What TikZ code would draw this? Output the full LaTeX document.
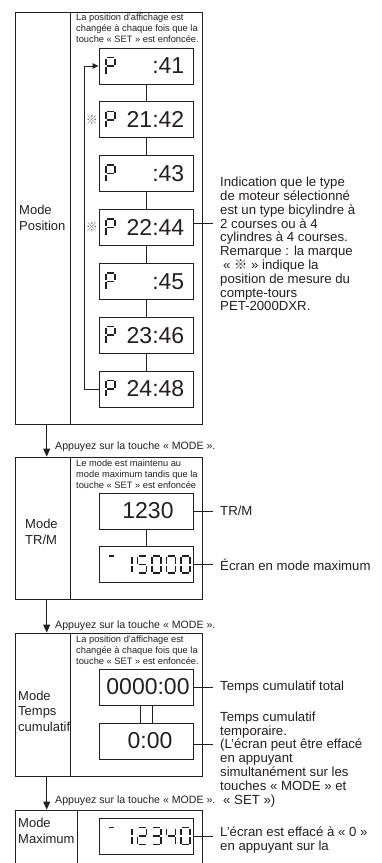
\documentclass[tikz,border=0pt]{standalone}
\usepackage{fontspec}
\setmainfont{Liberation Sans}
\newfontfamily\cjkfont{Noto Sans CJK JP}
\usetikzlibrary{arrows.meta,positioning}
\definecolor{ink}{HTML}{231F20}

\tikzset{
  modebox/.style={draw, line width=0.9pt, inner sep=0pt},
  lcd/.style={draw, line width=0.9pt, minimum width=94pt, minimum height=36pt, inner sep=0pt},
  lcdtext/.style={font=\fontsize{23}{23}\selectfont, inner sep=0pt},
  segline/.style={line width=1.4pt},
  link/.style={line width=0.9pt},
  flow/.style={line width=0.9pt, -{Triangle[length=8pt,width=7pt]}},
  modename/.style={font=\fontsize{13}{15.5}\selectfont, align=left, anchor=west, inner sep=0pt},
  hint/.style={font=\fontsize{9.3}{10.8}\selectfont, align=left, anchor=north west, inner sep=0pt},
  press/.style={font=\fontsize{10.6}{12}\selectfont, anchor=west, inner sep=0pt},
  remark/.style={font=\fontsize{13.2}{13.8}\selectfont, align=left, anchor=north west, inner sep=0pt},
  refmark/.style={font=\cjkfont\fontsize{12}{12}\selectfont, text=black!55, inner sep=0pt},
  % segments of a 7-segment digit, cell 9 x 17
  seg a/.style={insert path={(1,0) -- (8,0)}},
  seg b/.style={insert path={(9,1) -- (9,7.5)}},
  seg c/.style={insert path={(9,9.5) -- (9,16)}},
  seg d/.style={insert path={(1,17) -- (8,17)}},
  seg e/.style={insert path={(0,9.5) -- (0,16)}},
  seg f/.style={insert path={(0,1) -- (0,7.5)}},
  seg g/.style={insert path={(1,8.5) -- (8,8.5)}},
}
\newcommand{\segdigit}[3]{%
  \begin{scope}[shift={(#1,#2)}]
    \foreach \s in {#3} {\draw[segline, seg \s];}
  \end{scope}}

\begin{document}
\begin{tikzpicture}[x=1pt,y=-1pt,color=ink]
\useasboundingbox (0,0) rectangle (381,863);
\clip (0,0) rectangle (381,863);

% Mode Position
\node[modebox, minimum width=187pt, minimum height=412pt] (fpos) at (108.5,218) {};
\draw[link] (70.7,12) -- (70.7,424);
\node[modename] (lpos) at (19,218) {Mode\\Position};
\node[hint] (hpos) at (76,14) {La position d'affichage est\\changée à chaque fois que la\\touche « SET » est enfoncée.};
\foreach \t [count=\i] in {:41,21:42,:43,22:44,:45,23:46,24:48} {
  \pgfmathsetmacro\yy{66+53.83*(\i-1)}
  \node[lcd] (d\i) at (146,\yy) {};
  \node[lcdtext, anchor=east] (t\i) at ([xshift=-9pt]d\i.east) {\t};
  \segdigit{106}{\yy-8.5}{a,b,f,g,e}
}
\foreach \i [evaluate=\i as \j using int(\i+1)] in {1,...,6}
  \draw[link] (d\i) -- (d\j);
\node[refmark, left=0.5pt of d2] (m2) {※};
\node[refmark, left=0.5pt of d4] (m4) {※};
\draw[link, -{Triangle[length=6pt,width=5.5pt]}] (d7.west) -- ++(-14,0) |- (d1.west);
\coordinate (c4) at (213,223.5);
\draw[link] (d4.east |- c4) -- (c4);
\node[remark] (npos) at (220,177) {Indication que le type\\de moteur sélectionné\\est un type bicylindre à\\2 courses ou à 4\\cylindres à 4 courses.\\Remarque : la marque\\\hspace*{3pt}« {\cjkfont ※} » indique la\\position de mesure du\\compte-tours\\PET-2000DXR.};

% Mode TR/M
\coordinate (ax) at (46.7,0);
\node[modebox, minimum width=187pt, minimum height=142pt] (ftrm) at (108.5,528) {};
\draw[link] (70.7,457) -- (70.7,599);
\draw[flow] (fpos.south -| ax) -- (ftrm.north -| ax);
\node[press] (p1) at (55,447) {Appuyez sur la touche « MODE ».};
\node[modename] (ltrm) at (25,532) {Mode\\TR/M};
\node[hint] (htrm) at (76,459.5) {Le mode est maintenu au\\mode maximum tandis que la\\touche « SET » est enfoncée};
\node[lcd] (rpm) at (146,511) {};
\node[lcdtext] (trpm) at ([xshift=2pt]rpm.center) {1230};
\node[lcd] (pk) at (146,564.5) {};
\draw[link] (rpm) -- (pk);
\draw[segline] (109,556) -- (113.5,556);
\segdigit{123}{556}{b,c}
\segdigit{137.5}{556}{a,f,g,c,d}
\foreach \x in {152,166.5,181} {\segdigit{\x}{556}{a,b,c,d,e,f}}
\coordinate (c5) at (213,511);
\coordinate (c6) at (213,564.5);
\draw[link] (rpm.east) -- (c5);
\draw[link] (pk.east) -- (c6);
\node[remark, anchor=west] (nrpm) at (220,511) {TR/M};
\node[remark, anchor=west] (npk) at (220,564.5) {Écran en mode maximum};

% Mode Temps cumulatif
\node[modebox, minimum width=187pt, minimum height=143pt] (ftim) at (108.5,704.5) {};
\draw[link] (70.7,633) -- (70.7,776);
\draw[flow] (ftrm.south -| ax) -- (ftim.north -| ax);
\node[press] (p2) at (55,625.7) {Appuyez sur la touche « MODE ».};
\node[modename] (ltim) at (18,711) {Mode\\Temps\\cumulatif};
\node[hint] (htim) at (76,635.5) {La position d'affichage est\\changée à chaque fois que la\\touche « SET » est enfoncée.};
\node[lcd] (tot) at (146,687) {};
\node[lcdtext] (ttot) at ([xshift=2pt]tot.center) {0000:00};
\node[lcd] (tmp) at (146,741) {};
\node[lcdtext] (ttmp) at ([xshift=4pt]tmp.center) {0:00};
\draw[link] ([xshift=-6pt]tot.south) -- ([xshift=-6pt]tmp.north);
\draw[link] ([xshift=6pt]tot.south) -- ([xshift=6pt]tmp.north);
\coordinate (c7) at (213,687);
\coordinate (c8) at (213,744);
\draw[link] (tot.east) -- (c7);
\draw[link] (tmp.east |- c8) -- (c8);
\node[remark, anchor=west] (ntot) at (220,687) {Temps cumulatif total};
\node[remark] (ntmp) at (220,711.5) {Temps cumulatif\\temporaire.\\(L'écran peut être effacé\\en appuyant\\simultanément sur les\\touches « MODE » et\\\hspace*{3pt}« SET »)};

% Mode Maximum
\node[modebox, minimum width=187pt, minimum height=100pt] (fmax) at (108.5,860) {};
\draw[link] (77,810) -- (77,910);
\draw[flow] (ftim.south -| ax) -- (fmax.north -| ax);
\node[press] (p3) at (55,800.7) {Appuyez sur la touche « MODE ».};
\node[modename] (lmax) at (18,831) {Mode\\Maximum};
\node[lcd] (mx) at (146,836) {};
\draw[segline] (109,827.5) -- (113.5,827.5);
\segdigit{123}{827.5}{b,c}
\segdigit{137.5}{827.5}{a,b,g,e,d}
\segdigit{152}{827.5}{a,b,g,c,d}
\segdigit{166.5}{827.5}{f,g,b,c}
\segdigit{181}{827.5}{a,b,c,d,e,f}
\coordinate (c9) at (213,836);
\draw[link] (mx.east) -- (c9);
\node[remark] (nmx) at (220,827) {L'écran est effacé à « 0 »\\en appuyant sur la};
\end{tikzpicture}
\end{document}
